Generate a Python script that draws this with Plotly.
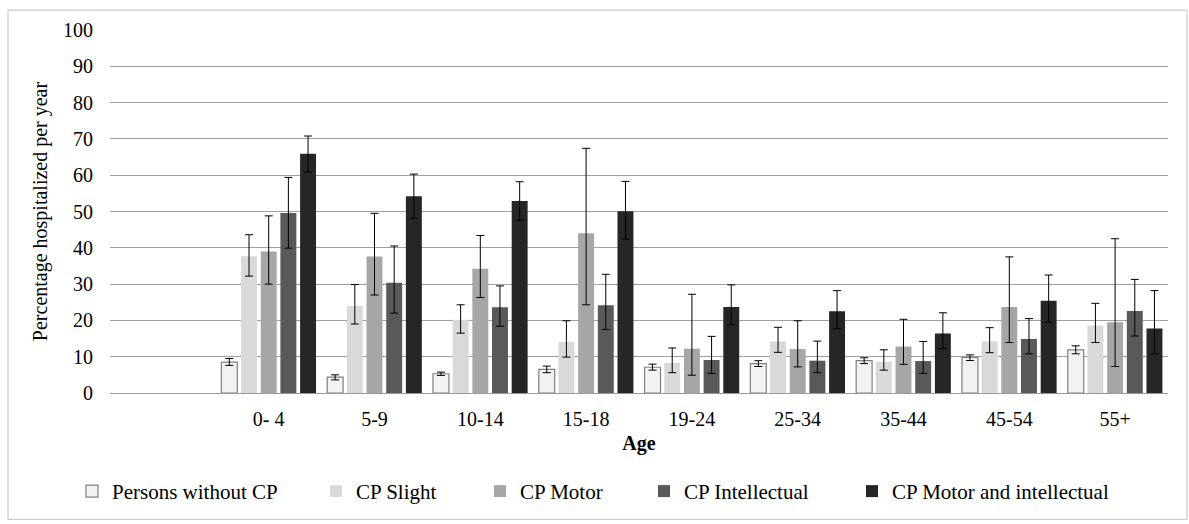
import plotly.graph_objects as go

ages = ["0- 4", "5-9", "10-14", "15-18", "19-24", "25-34", "35-44", "45-54", "55+"]

series_names = ["Persons without CP", "CP Slight", "CP Motor", "CP Intellectual",
                "CP Motor and intellectual"]

without_cp = [8.5, 4.4, 5.3, 6.5, 7.1, 8.1, 8.9, 9.8, 11.9]
without_cp_hi = [9.5, 5.0, 5.75, 7.4, 7.95, 8.9, 9.7, 10.5, 13.0]
without_cp_lo = [7.6, 3.6, 4.85, 5.6, 6.3, 7.3, 8.1, 8.95, 10.8]

cp_slight = [37.7, 24.0, 20.2, 14.1, 8.3, 14.2, 8.6, 14.2, 18.6]
cp_slight_hi = [43.6, 29.9, 24.3, 19.9, 12.4, 18.1, 11.9, 18.0, 24.7]
cp_slight_lo = [32.2, 19.0, 16.5, 9.9, 5.6, 11.2, 6.3, 11.1, 13.9]

cp_motor = [39.0, 37.6, 34.2, 44.0, 12.2, 12.1, 12.8, 23.7, 19.5]
cp_motor_hi = [48.8, 49.5, 43.4, 67.4, 27.2, 19.9, 20.3, 37.5, 42.5]
cp_motor_lo = [30.0, 27.0, 26.3, 24.3, 4.9, 7.2, 7.9, 13.9, 7.3]

cp_intel = [49.6, 30.4, 23.6, 24.2, 9.1, 8.9, 8.8, 14.9, 22.6]
cp_intel_hi = [59.4, 40.5, 29.5, 32.7, 15.6, 14.3, 14.2, 20.5, 31.3]
cp_intel_lo = [39.9, 22.0, 18.4, 17.5, 5.4, 5.6, 5.4, 10.8, 15.7]

cp_both = [65.9, 54.2, 52.9, 50.1, 23.7, 22.5, 16.4, 25.4, 17.8]
cp_both_hi = [70.8, 60.3, 58.2, 58.3, 29.8, 28.2, 22.1, 32.5, 28.2]
cp_both_lo = [60.9, 48.1, 47.6, 42.4, 18.8, 17.7, 12.2, 19.5, 10.8]

values = [without_cp, cp_slight, cp_motor, cp_intel, cp_both]
highs = [without_cp_hi, cp_slight_hi, cp_motor_hi, cp_intel_hi, cp_both_hi]
lows = [without_cp_lo, cp_slight_lo, cp_motor_lo, cp_intel_lo, cp_both_lo]

colors = ["#f2f2f2", "#d9d9d9", "#a6a6a6", "#595959", "#262626"]
line_colors = ["#808080", "#d9d9d9", "#a6a6a6", "#595959", "#262626"]
line_widths = [1.2, 0, 0, 0, 0]

FONT = "Liberation Serif, Times New Roman, serif"

# plot area in pixels
L, R, T, B = 110, 21, 30, 129
W, H = 1189, 524
PW = W - L - R
PH = H - T - B

def px_x(px):
    return (px - L) / PW

def px_y(py):
    return (H - B - py) / PH

legend_origins = [72, 316, 480, 644, 852]
legend_ids = ["legend", "legend2", "legend3", "legend4", "legend5"]

fig = go.Figure()
for i in range(5):
    fig.add_trace(go.Bar(
        x=ages, y=values[i], name=series_names[i],
        marker=dict(color=colors[i], line=dict(color=line_colors[i], width=line_widths[i])),
        error_y=dict(type="data", symmetric=False,
                     array=[h - v for h, v in zip(highs[i], values[i])],
                     arrayminus=[v - l for v, l in zip(values[i], lows[i])],
                     color="black", thickness=1, width=4),
        legend=legend_ids[i],
    ))

layout_legends = {}
for i, lid in enumerate(legend_ids):
    layout_legends[lid] = dict(
        x=px_x(legend_origins[i]), xanchor="left",
        y=px_y(494), yanchor="middle",
        orientation="h", bgcolor="rgba(0,0,0,0)",
        font=dict(family=FONT, size=21, color="black"),
    )

fig.update_layout(
    width=W, height=H,
    margin=dict(l=L, r=R, t=T, b=B),
    paper_bgcolor="white", plot_bgcolor="white",
    barmode="group", bargap=0.07, bargroupgap=0.19,
    font=dict(family=FONT, size=20, color="black"),
    showlegend=True,
    **layout_legends,
    xaxis=dict(
        type="category", range=[-1.5, 8.5],
        showline=True, linecolor="#999999", linewidth=1,
        showgrid=False, ticks="", ticklabelstandoff=8,
        tickfont=dict(family=FONT, size=20, color="black"),
        title=dict(text="<b>Age</b>", font=dict(family=FONT, size=20, color="black"), standoff=6),
    ),
    yaxis=dict(
        range=[0, 100], dtick=10, tick0=0,
        showgrid=True, gridcolor="#a0a0a0", gridwidth=1,
        showline=False, zeroline=False, ticks="", ticklabelstandoff=16,
        tickfont=dict(family=FONT, size=20, color="black"),
        title=dict(text="Percentage hospitalized per year",
                   font=dict(family=FONT, size=20, color="black"), standoff=10),
    ),
    shapes=[dict(type="rect", xref="paper", yref="paper",
                 x0=px_x(8), x1=px_x(1187), y0=px_y(522), y1=px_y(10),
                 line=dict(color="#c0c0c0", width=1), fillcolor="rgba(0,0,0,0)", layer="below")],
)

fig.write_html("out.html")
